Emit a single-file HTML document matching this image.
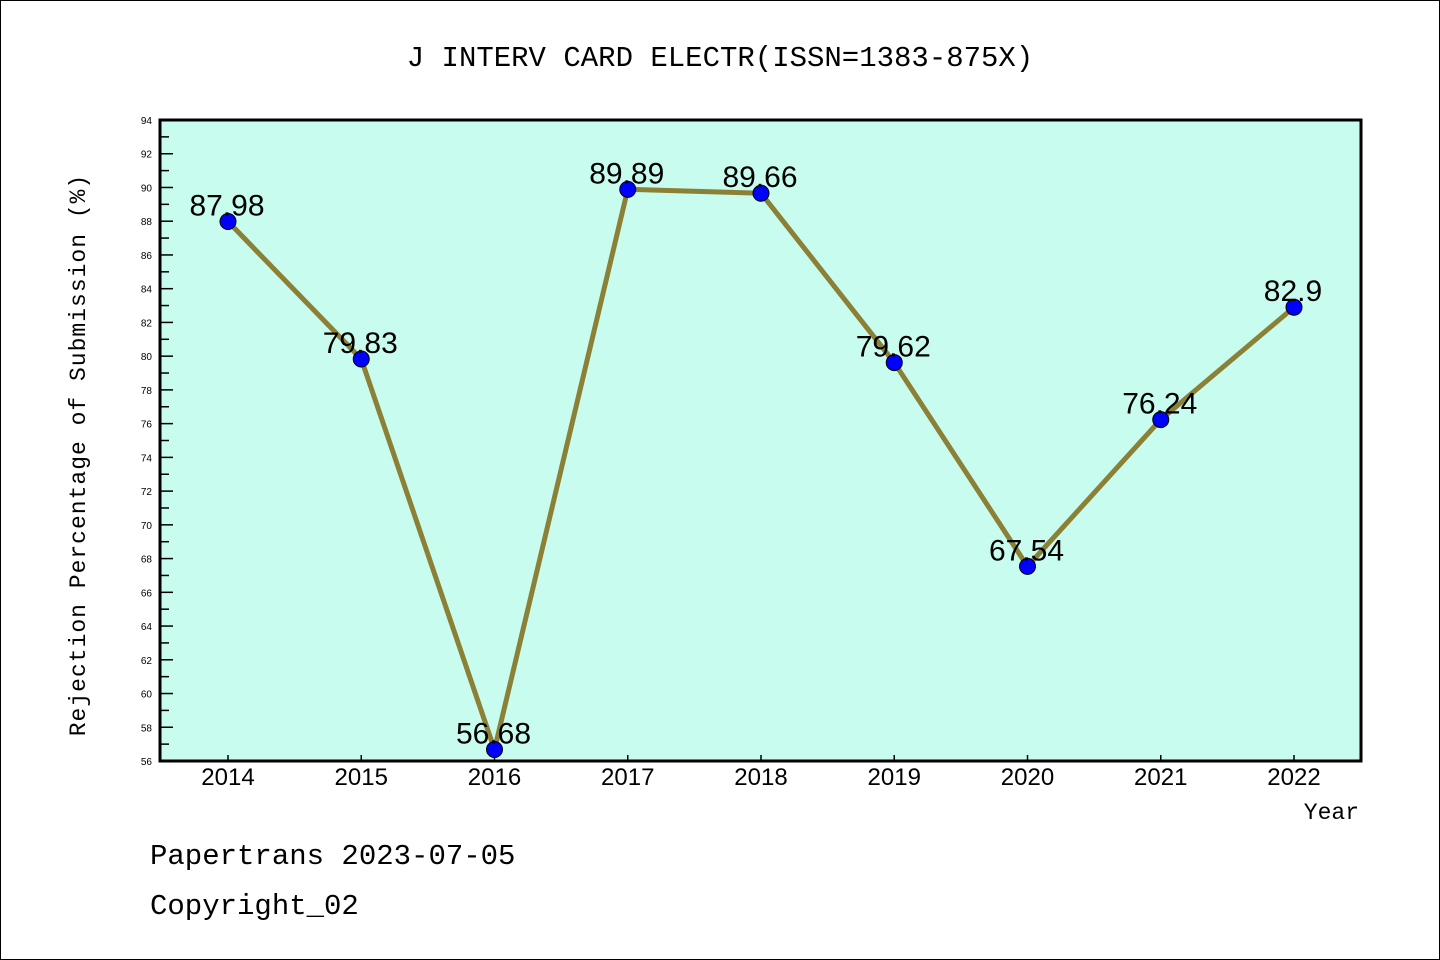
<!DOCTYPE html>
<html><head><meta charset="utf-8"><style>
body{margin:0;background:#fff}
svg{display:block;font-family:"Liberation Sans","Noto Sans CJK SC",sans-serif}
</style></head><body>
<svg id="chart" width="1440" height="960">
<rect x="0.5" y="0.5" width="1439" height="959" fill="#fff" stroke="#000"/>
<text x="720" y="66" font-size="29" text-anchor="middle" font-family="Liberation Mono, monospace">J INTERV CARD ELECTR(ISSN=1383-875X)</text>
<rect x="160" y="120" width="1201" height="641" fill="#c8fcee"/>
<g id="axes"></g>
<g id="marks"></g>
<rect x="160" y="120" width="1201" height="641" fill="none" stroke="#000" stroke-width="3"/>
<text transform="translate(85,455) rotate(-90)" font-size="23" text-anchor="middle" font-family="Liberation Mono, monospace" letter-spacing="1">Rejection Percentage of Submission (%)</text>
<text x="1359" y="819" font-size="23" text-anchor="end" font-family="Liberation Mono, monospace">Year</text>
<text x="150" y="864" font-size="29" font-family="Liberation Mono, monospace">Papertrans 2023-07-05</text>
<text x="150" y="914" font-size="29" font-family="Liberation Mono, monospace">Copyright_02</text>
</svg>
<script>
const years = ["2014","2015","2016","2017","2018","2019","2020","2021","2022"];
const values = [87.98,79.83,56.68,89.89,89.66,79.62,67.54,76.24,82.9];
const valueLabels = ["87.98","79.83","56.68","89.89","89.66","79.62","67.54","76.24","82.9"];
const yMin = 56, yMax = 94;
const ns = "http://www.w3.org/2000/svg";
function X(i){return 228 + i*(1294-228)/(years.length-1);}
function Y(v){return 761 - (v-yMin)/(yMax-yMin)*641;}
function mk(t,a,p){const e=document.createElementNS(ns,t);for(const k in a)e.setAttribute(k,a[k]);p.appendChild(e);return e;}
const axes=document.getElementById('axes'), marks=document.getElementById('marks');
for(let v=yMin; v<=yMax; v++){
  const major=(v%2===0);
  const t=mk('line',{x1:160,x2:major?173:169,y1:Y(v),y2:Y(v),stroke:'#000','stroke-width':1.5},axes);
  
  
  if(major){
    const l=mk('text',{x:152,y:Y(v)+4,'font-size':10,'text-anchor':'end'},axes);
    l.textContent=v;
    
    
  }
}
years.forEach((y,i)=>{
  const t=mk('line',{x1:X(i),x2:X(i),y1:761,y2:755,stroke:'#000','stroke-width':1.5},axes);
  
  
  const l=mk('text',{x:X(i),y:785,'font-size':24,'text-anchor':'middle'},axes);
  l.textContent=y;
  
  
});
const pl=mk('polyline',{points:values.map((v,i)=>X(i)+','+Y(v)).join(' '),fill:'none',stroke:'#8b8035','stroke-width':5,'stroke-linejoin':'round'},marks);


values.forEach((v,i)=>{
  const c=mk('circle',{cx:X(i),cy:Y(v),r:8,fill:'#0000ff',stroke:'#000','stroke-width':1},marks);
  
  
  const l=mk('text',{x:X(i)-1,y:Y(v)-6,'font-size':30,'text-anchor':'middle'},marks);
  l.textContent=valueLabels[i];
  
  
});
</script>
</body></html>
